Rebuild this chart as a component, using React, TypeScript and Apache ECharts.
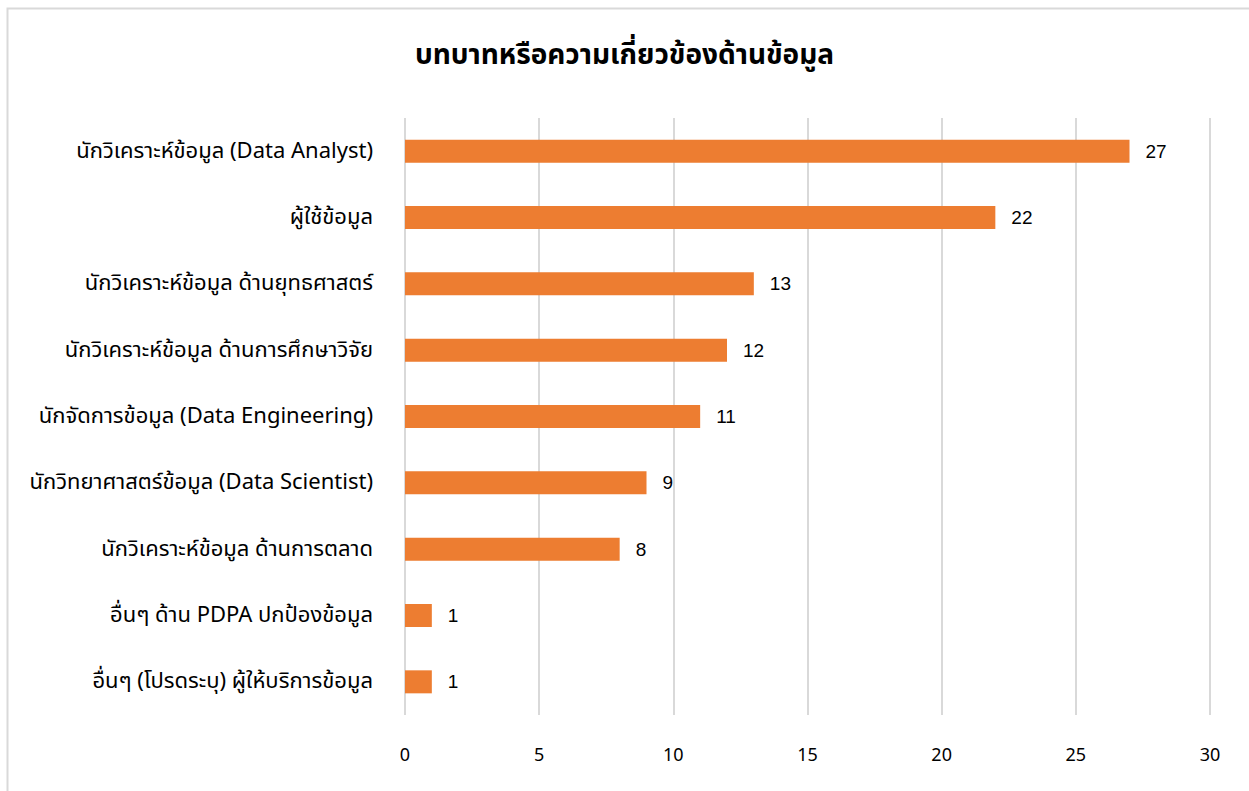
import React, { useEffect, useRef } from "react";
import * as echarts from "echarts";

const categories = [
  "นักวิเคราะห์ข้อมูล (Data Analyst)",
  "ผู้ใช้ข้อมูล",
  "นักวิเคราะห์ข้อมูล ด้านยุทธศาสตร์",
  "นักวิเคราะห์ข้อมูล ด้านการศึกษาวิจัย",
  "นักจัดการข้อมูล (Data Engineering)",
  "นักวิทยาศาสตร์ข้อมูล (Data Scientist)",
  "นักวิเคราะห์ข้อมูล ด้านการตลาด",
  "อื่นๆ ด้าน PDPA ปกป้องข้อมูล",
  "อื่นๆ (โปรดระบุ) ผู้ให้บริการข้อมูล",
];
const values = [27, 22, 13, 12, 11, 9, 8, 1, 1];
const titleText = "บทบาทหรือความเกี่ยวข้องด้านข้อมูล";

const thaiFont = "'Noto Sans Thai', 'Noto Sans Thai UI', Tahoma, 'Noto Sans', sans-serif";

export default function App() {
  const ref = useRef<HTMLDivElement>(null);
  useEffect(() => {
    if (!ref.current) return;
    const chart = echarts.init(ref.current, undefined, { renderer: "svg" });
    chart.setOption({
      animation: false,
      backgroundColor: "#ffffff",
      title: {
        text: titleText,
        left: "center",
        top: 36,
        textStyle: { fontFamily: thaiFont, fontSize: 28, fontWeight: "bold", color: "#000" },
      },
      graphic: [
        {
          type: "rect",
          shape: { x: 7.5, y: 8.5, width: 1400, height: 1000 },
          style: { fill: "none", stroke: "#d9d9d9", lineWidth: 2 },
          silent: true,
        },
      ],
      grid: { left: 405, right: 39, top: 118, bottom: 76, containLabel: false },
      xAxis: {
        type: "value",
        min: 0,
        max: 30,
        interval: 5,
        axisLine: { show: false },
        axisTick: { show: false },
        splitLine: { show: true, lineStyle: { color: "#d9d9d9", width: 2 } },
        axisLabel: { margin: 31, fontFamily: thaiFont, fontSize: 18, color: "#000" },
      },
      yAxis: {
        type: "category",
        data: categories,
        inverse: true,
        axisLine: { show: false },
        axisTick: { show: false },
        axisLabel: { margin: 32, fontFamily: thaiFont, fontSize: 22, color: "#000" },
      },
      series: [
        {
          type: "bar",
          data: values,
          barWidth: 23,
          itemStyle: { color: "#ED7D31" },
          label: {
            show: true,
            position: "right",
            distance: 16,
            fontFamily: "Arial, 'Liberation Sans', sans-serif",
            fontSize: 19,
            color: "#000",
          },
        },
      ],
    });
    return () => chart.dispose();
  }, []);
  return (
    <div
      ref={ref}
      style={{ position: "absolute", left: 0, top: 0, width: 1249, height: 791 }}
    />
  );
}
